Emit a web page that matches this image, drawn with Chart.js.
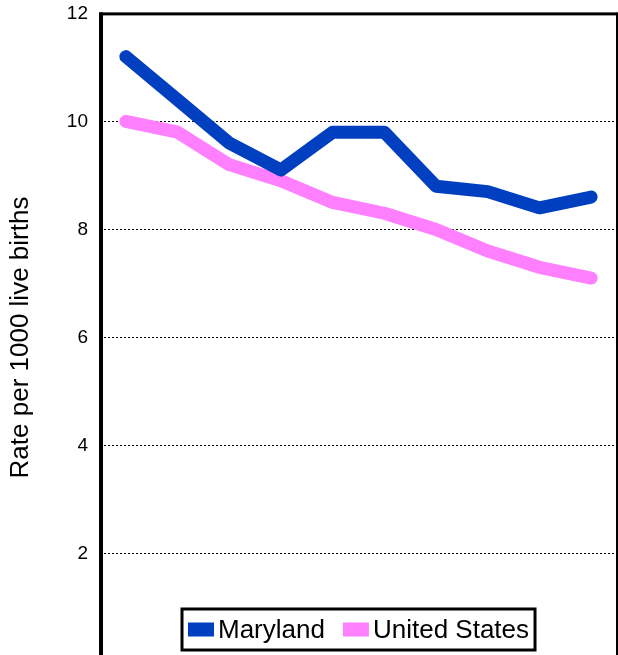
<!DOCTYPE html>
<html>
<head>
<meta charset="utf-8">
<script src="https://cdn.jsdelivr.net/npm/chart.js@4.4.1/dist/chart.umd.min.js"></script>
<style>
  html, body { margin: 0; padding: 0; background: #fff; overflow: hidden; }
  #wrap { width: 618px; height: 655px; overflow: hidden; }
  #myChart { display: block; margin-top: -10px; }
</style>
</head>
<body>
<div id="wrap"><canvas id="myChart" width="618" height="695"></canvas></div>
<script>
// points along x (no labels shown on the chart)
const periods = ["1", "2", "3", "4", "5", "6", "7", "8", "9", "10"];

// rate per 1000 live births
const maryland = [11.2, 10.4, 9.6, 9.1, 9.8, 9.8, 8.8, 8.7, 8.4, 8.6];
const unitedStates = [10.0, 9.8, 9.2, 8.9, 8.5, 8.3, 8.0, 7.6, 7.3, 7.1];

// the 0 line falls below the bottom of the picture
const yTicks = [2, 4, 6, 8, 10, 12];

const FONT = "Arial, 'Liberation Sans', sans-serif";

// black frame round the plot
const framePlugin = {
  id: "frame",
  afterDraw(chart) {
    const ctx = chart.ctx;
    const a = chart.chartArea;
    ctx.save();
    ctx.fillStyle = "#000";
    ctx.fillRect(a.left - 1, a.top - 1, 4, a.bottom - a.top + 1); // left
    ctx.fillRect(a.left - 1, a.top - 1, a.right - a.left + 1, 3); // top
    ctx.fillRect(a.right - 1, a.top - 1, 2, a.bottom - a.top + 1); // right
    ctx.restore();
  }
};

// legend box drawn inside the plot, near its bottom
const boxLegend = {
  id: "boxLegend",
  afterDraw(chart) {
    const ctx = chart.ctx;
    const a = chart.chartArea;
    const sets = chart.data.datasets;
    ctx.save();
    ctx.font = "26px " + FONT;
    ctx.textBaseline = "middle";
    const sw = 26, gap = 4, between = 18, padX = 6;
    let total = padX * 2;
    sets.forEach((ds, i) => {
      total += sw + gap + ctx.measureText(ds.label).width;
      if (i < sets.length - 1) total += between;
    });
    const h = 41;
    const x0 = Math.round((a.left + a.right) / 2 - total / 2);
    const y0 = Math.round(a.bottom - 12 - h);
    ctx.fillStyle = "#fff";
    ctx.fillRect(x0, y0, total, h);
    ctx.lineWidth = 3;
    ctx.strokeStyle = "#000";
    ctx.strokeRect(x0, y0, total, h);
    let x = x0 + padX;
    const cy = y0 + h / 2;
    sets.forEach((ds) => {
      ctx.fillStyle = ds.borderColor;
      ctx.fillRect(x, cy - 7, sw, 14);
      x += sw + gap;
      ctx.fillStyle = "#000";
      ctx.fillText(ds.label, x, cy + 1);
      x += ctx.measureText(ds.label).width + between;
    });
    ctx.restore();
  }
};

const ctx = document.getElementById("myChart").getContext("2d");
new Chart(ctx, {
  type: "line",
  data: {
    labels: periods,
    datasets: [
      {
        label: "Maryland",
        data: maryland,
        borderColor: "#0040C0",
        backgroundColor: "#0040C0",
        borderWidth: 13,
        pointRadius: 0,
        borderCapStyle: "round",
        borderJoinStyle: "round",
        tension: 0,
      },
      {
        label: "United States",
        data: unitedStates,
        borderColor: "#FF80FF",
        backgroundColor: "#FF80FF",
        borderWidth: 13,
        pointRadius: 0,
        borderCapStyle: "round",
        borderJoinStyle: "round",
        tension: 0,
      },
    ],
  },
  options: {
    responsive: false,
    animation: false,
    devicePixelRatio: 1,
    layout: { padding: { top: 3, right: 1, bottom: 13, left: 0 } },
    plugins: {
      legend: { display: false },
      tooltip: { enabled: false },
    },
    scales: {
      x: {
        display: false,
        offset: true,
        grid: { display: false },
      },
      y: {
        min: 0,
        max: 12,
        afterFit(scale) { scale.width = 100; },
        afterBuildTicks(scale) { scale.ticks = yTicks.map(v => ({ value: v })); },
        ticks: {
          color: "#000",
          padding: 12,
          font: { family: FONT, size: 19 },
        },
        grid: {
          color: "#000",
          lineWidth: 1,
          drawTicks: false,
        },
        border: { display: false, dash: [2, 2] },
        title: {
          display: true,
          text: "Rate per 1000 live births",
          color: "#000",
          padding: { top: 5, bottom: 0 },
          font: { family: FONT, size: 26 },
        },
      },
    },
  },
  plugins: [framePlugin, boxLegend],
});
</script>
</body>
</html>
